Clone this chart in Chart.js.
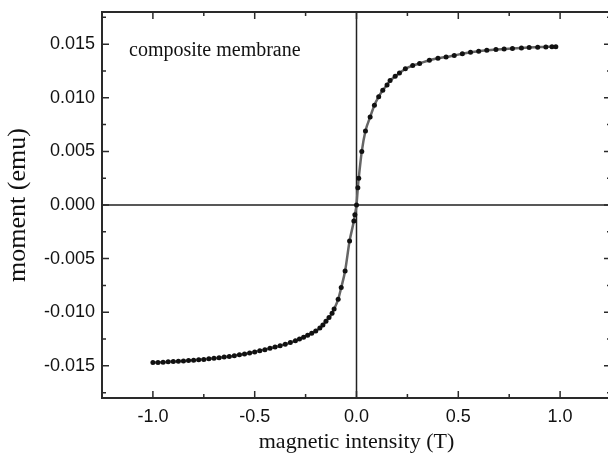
<!DOCTYPE html>
<html>
<head>
<meta charset="utf-8">
<script src="https://cdn.jsdelivr.net/npm/chart.js@4/dist/chart.umd.min.js"></script>
<style>
  html, body { margin: 0; padding: 0; background: #fff; overflow: hidden; }
  #wrap { position: relative; width: 620px; height: 458px; }
  #note { position: absolute; left: 129px; top: 39px; font-family: "Liberation Serif", "Times New Roman", serif; font-size: 20px; line-height: 20px; color: #111; white-space: nowrap; }
</style>
</head>
<body>
<div id="wrap">
  <canvas id="c" width="620" height="458"></canvas>
  <div id="note">composite membrane</div>
</div>
<script>
// magnetic field (T)
const hField = [
  -1.000, -0.975, -0.950, -0.925, -0.900, -0.875, -0.850, -0.825, -0.800, -0.775,
  -0.750, -0.725, -0.700, -0.675, -0.650, -0.625, -0.600, -0.575, -0.550, -0.525,
  -0.500, -0.475, -0.450, -0.425, -0.400, -0.375, -0.350, -0.325, -0.300, -0.280,
  -0.260, -0.240, -0.220, -0.200, -0.180, -0.165, -0.150, -0.135, -0.120, -0.110,
  -0.090, -0.075, -0.056, -0.034, -0.013, -0.008, 0.000, 0.0065, 0.011, 0.026,
  0.044, 0.067, 0.088, 0.109, 0.129, 0.150, 0.165, 0.190, 0.211, 0.240,
  0.276, 0.310, 0.358, 0.400, 0.440, 0.480, 0.520, 0.560, 0.600, 0.640,
  0.685, 0.725, 0.766, 0.810, 0.848, 0.890, 0.930, 0.960, 0.979
];
// moment (emu)
const moment = [
  -0.01470, -0.01468, -0.01466, -0.01463, -0.01460, -0.01457, -0.01454, -0.01450, -0.01447, -0.01443,
  -0.01440, -0.01435, -0.01430, -0.01424, -0.01418, -0.01412, -0.01405, -0.01397, -0.01389, -0.01380,
  -0.01370, -0.01360, -0.01349, -0.01337, -0.01325, -0.01312, -0.01298, -0.01283, -0.01266, -0.01250,
  -0.01234, -0.01215, -0.01196, -0.01174, -0.01148, -0.01120, -0.01085, -0.01050, -0.01010, -0.00970,
  -0.00880, -0.00770, -0.00615, -0.00335, -0.00150, -0.00090, 0.00000, 0.00160, 0.00250, 0.00500,
  0.00690, 0.00820, 0.00930, 0.01010, 0.01070, 0.01120, 0.01160, 0.01200, 0.01230, 0.01270,
  0.01300, 0.01320, 0.01350, 0.01368, 0.01380, 0.01395, 0.01410, 0.01424, 0.01435, 0.01443,
  0.01450, 0.01455, 0.01460, 0.01465, 0.01470, 0.01472, 0.01474, 0.01476, 0.01475
];
const xTickValues = [-1.0, -0.5, 0.0, 0.5, 1.0];
const xMinorValues = [-0.75, -0.25, 0.25, 0.75];
const yTickValues = [-0.015, -0.010, -0.005, 0.000, 0.005, 0.010, 0.015];
const yMinorValues = [-0.0175, -0.0125, -0.0075, -0.0025, 0.0025, 0.0075, 0.0125, 0.0175];

const frameColor = '#2a2a2a';

const framePlugin = {
  id: 'frame',
  beforeDatasetsDraw(chart) {
    const {ctx, chartArea: a, scales: {x, y}} = chart;
    ctx.save();
    ctx.strokeStyle = '#222';
    ctx.lineWidth = 1.5;
    const x0 = x.getPixelForValue(0), y0 = y.getPixelForValue(0);
    ctx.beginPath();
    ctx.moveTo(x0, a.top); ctx.lineTo(x0, a.bottom);
    ctx.moveTo(a.left, y0); ctx.lineTo(a.right, y0);
    ctx.stroke();
    ctx.restore();
  },
  afterDraw(chart) {
    const {ctx, chartArea: a, scales: {x, y}} = chart;
    ctx.save();
    ctx.strokeStyle = frameColor;
    ctx.lineWidth = 2;
    ctx.strokeRect(a.left, a.top, a.right - a.left, a.bottom - a.top);
    ctx.lineWidth = 1.5;
    ctx.beginPath();
    const tick = (vals, len) => {
      vals.forEach(v => {
        const px = x.getPixelForValue(v);
        ctx.moveTo(px, a.bottom); ctx.lineTo(px, a.bottom - len);
        ctx.moveTo(px, a.top); ctx.lineTo(px, a.top + len);
      });
    };
    const tickY = (vals, len) => {
      vals.forEach(v => {
        const py = y.getPixelForValue(v);
        ctx.moveTo(a.left, py); ctx.lineTo(a.left + len, py);
        ctx.moveTo(a.right, py); ctx.lineTo(a.right - len, py);
      });
    };
    tick(xTickValues, 7); tick(xMinorValues, 4);
    tickY(yTickValues, 7); tickY(yMinorValues, 4);
    ctx.stroke();
    ctx.restore();
  }
};

new Chart(document.getElementById('c'), {
  type: 'scatter',
  data: {
    datasets: [{
      data: hField.map((h, i) => ({x: h, y: moment[i]})),
      showLine: true,
      borderColor: '#666',
      borderWidth: 2.5,
      cubicInterpolationMode: 'monotone',
      pointRadius: 2.5,
      pointBackgroundColor: '#111',
      pointBorderWidth: 0,
      pointHoverRadius: 2.5
    }]
  },
  options: {
    responsive: false,
    animation: false,
    layout: { padding: { top: 12, right: 9, left: 0, bottom: 0 } },
    plugins: { legend: { display: false }, tooltip: { enabled: false } },
    scales: {
      x: {
        type: 'linear', min: -1.25, max: 1.25,
        grid: { display: false, drawTicks: false },
        border: { display: false },
        afterBuildTicks: s => { s.ticks = xTickValues.map(v => ({value: v})); },
        afterFit: s => { s.height = 60; s.paddingLeft = 0; s.paddingRight = 0; },
        ticks: {
          padding: 8, color: '#111', maxRotation: 0,
          font: { family: '"Liberation Sans", Arial, sans-serif', size: 18 },
          callback: v => Number(v).toFixed(1)
        },
        title: {
          display: true, text: 'magnetic intensity (T)', color: '#111',
          font: { family: '"Liberation Serif", "Times New Roman", serif', size: 22 },
          padding: { top: 0, bottom: 3 }
        }
      },
      y: {
        type: 'linear', min: -0.018, max: 0.018,
        grid: { display: false, drawTicks: false },
        border: { display: false },
        afterBuildTicks: s => { s.ticks = yTickValues.map(v => ({value: v})); },
        afterFit: s => { s.width = 102; s.paddingTop = 0; s.paddingBottom = 0; },
        ticks: {
          padding: 7, color: '#111',
          font: { family: '"Liberation Sans", Arial, sans-serif', size: 18 },
          callback: v => Number(v).toFixed(3)
        },
        title: {
          display: true, text: 'moment (emu)', color: '#111',
          font: { family: '"Liberation Serif", "Times New Roman", serif', size: 26 },
          padding: { top: 3, bottom: 0 }
        }
      }
    }
  },
  plugins: [framePlugin]
});
</script>
</body>
</html>
